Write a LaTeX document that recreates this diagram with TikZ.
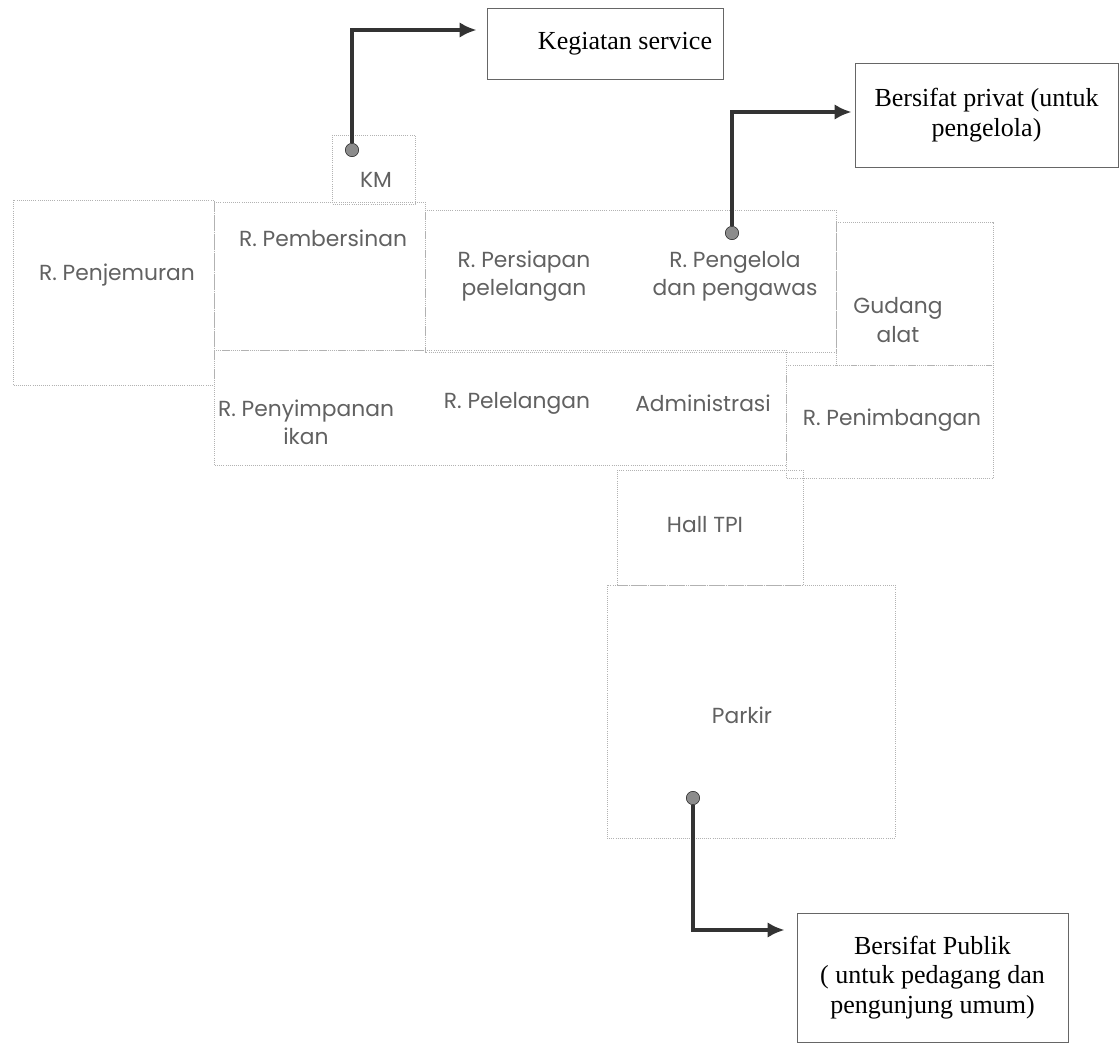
\documentclass[tikz,border=0pt]{standalone}
\usepackage{fontspec}
\setmainfont{Liberation Serif}
\newfontfamily\roomfont{Poppins}
\usetikzlibrary{calc,arrows.meta}

\begin{document}
\begin{tikzpicture}[x=0.025cm, y=-0.025cm,
  room/.style={draw=black!30, densely dotted, line width=0.5pt},
  roomlabel/.style={font=\roomfont\fontsize{15.5}{20}\selectfont, text=black!62, align=center},
  infobox/.style={draw=black!60, line width=0.6pt, align=center,
    font=\fontsize{18.5}{21}\selectfont},
  dot/.style={circle, draw=black!85, fill=black!45, inner sep=0pt, minimum size=9.5pt},
  link/.style={draw=black!80, line width=2.4pt, -{Latex[length=12pt,width=11pt]}}]

\useasboundingbox (0,0) rectangle (1120,1044);

% Room outlines of the plan (faint dotted walls)
\draw[room] (13,200) rectangle (214,385);   % penjemuran
\draw[room] (214,202) rectangle (425,350);  % pembersinan
\draw[room] (332,135) rectangle (415,204);  % KM
\draw[room] (425,210) rectangle (836,352);  % persiapan + pengelola
\draw[room] (836,222) rectangle (993,365);  % gudang
\draw[room] (214,350) rectangle (786,465);  % penyimpanan, pelelangan, administrasi
\draw[room] (786,365) rectangle (993,478);  % penimbangan
\draw[room] (617,470) rectangle (803,585);  % hall
\draw[room] (607,585) rectangle (895,838);  % parkir

% Room names
\node[roomlabel] (km) at (376,180) {KM};
\node[roomlabel] (penjemuran) at (117,275) {R. Penjemuran};
\node[roomlabel] (pembersinan) at (323,238) {R. Pembersinan};
\node[roomlabel] (persiapan) at (524,276) {R. Persiapan\\pelelangan};
\node[roomlabel] (pengelola) at (735,276) {R. Pengelola\\dan pengawas};
\node[roomlabel] (gudang) at (898,320) {Gudang\\alat};
\node[roomlabel] (penyimpanan) at (306,422) {R. Penyimpanan\\ikan};
\node[roomlabel] (pelelangan) at (517,403) {R. Pelelangan};
\node[roomlabel] (administrasi) at (703,403) {Administrasi};
\node[roomlabel] (penimbangan) at (892,420) {R. Penimbangan};
\node[roomlabel] (hall) at (705,525) {Hall TPI};
\node[roomlabel] (parkir) at (742,715) {Parkir};

% Zone boxes
\node[infobox, minimum width=5.9cm, minimum height=1.775cm] (service) at (605,43.5)
  {\hspace*{1cm}Kegiatan service};
\node[infobox, minimum width=6.575cm, minimum height=2.6cm] (privat) at (986.5,115)
  {Bersifat privat (untuk\\pengelola)};
\node[infobox, minimum width=6.775cm, minimum height=3.225cm] (publik) at (932.5,977.5)
  {Bersifat Publik\\( untuk pedagang dan\\pengunjung umum)};

% Markers and arrows to the zones
\node[dot] (kmdot) at (352,150) {};
\node[dot] (pengeloladot) at (732,233) {};
\node[dot] (parkirdot) at (693,798) {};

\draw[link] (kmdot) |- ($(service.west)+(-10,-13.5)$);
\draw[link] (pengeloladot) |- ($(privat.west)+(-3,-3)$);
\draw[link] (parkirdot) |- ($(publik.west)+(-12,-47.5)$);

\end{tikzpicture}
\end{document}
